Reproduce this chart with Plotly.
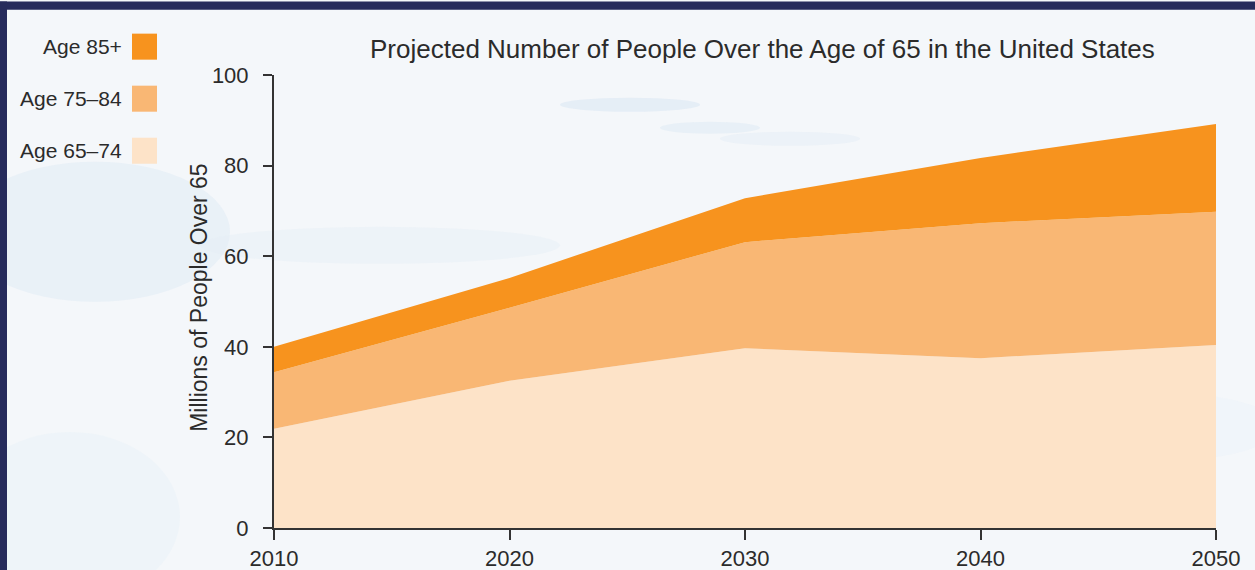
import plotly.graph_objects as go

# ---- data ----
years = [2010, 2020, 2030, 2040, 2050]
age_65_74 = [21.9, 32.5, 39.7, 37.5, 40.4]
age_75_84 = [12.5, 16.1, 23.4, 29.8, 29.4]
age_85_plus = [5.6, 6.6, 9.7, 14.4, 19.4]
series_names = ["Age 65\u201374", "Age 75\u201384", "Age 85+"]
series_colors = ["#FDE3C8", "#F9B774", "#F7931E"]
y_ticks = [0, 20, 40, 60, 80, 100]
x_ticks = [2010, 2020, 2030, 2040, 2050]
title_text = "Projected Number of People Over the Age of 65 in the United States"
y_title = "Millions of People Over 65"

# the page shows the figure at ~0.977 of its layout height, so compensate
SY = 583 / 570
W, H = 1255, 583
L, R = 274, 39
T, B = round(73 * SY), round(44 * SY)
PW, PH = W - L - R, H - T - B


def xp(px):
    return (px - L) / PW


def yp(py):
    return (H - B - py * SY) / PH


FONT = "Liberation Sans, Arial, sans-serif"
TXT = "#2b2b2b"

fig = go.Figure()
for name, vals, col in zip(series_names, [age_65_74, age_75_84, age_85_plus], series_colors):
    fig.add_trace(go.Scatter(
        x=years, y=vals, name=name, mode="lines", stackgroup="one",
        line=dict(width=0, color=col), fillcolor=col, showlegend=False,
        hoverinfo="x+y+name",
    ))

shapes = []
# soft cloud-like background tints
clouds = [
    (-40, 160, 230, 300, "#DCE8F3", 0.45),
    (560, 96, 700, 110, "#D3E3F1", 0.45),
    (660, 120, 760, 132, "#D8E6F2", 0.4),
    (720, 130, 860, 144, "#DCE8F3", 0.35),
    (200, 225, 560, 262, "#E3EDF6", 0.4),
    (-40, 430, 180, 600, "#E6EFF7", 0.4),
    (1020, 390, 1280, 460, "#E8F0F8", 0.35),
]
for x0, y0, x1, y1, c, o in clouds:
    shapes.append(dict(type="circle", xref="paper", yref="paper", layer="below",
                       x0=xp(x0), x1=xp(x1), y0=yp(y1), y1=yp(y0),
                       fillcolor=c, opacity=o, line=dict(width=0)))
# navy frame strips (top and left)
shapes.append(dict(type="rect", xref="paper", yref="paper", layer="above",
                   x0=xp(0), x1=xp(W), y0=yp(8), y1=yp(0),
                   fillcolor="#262B5C", line=dict(width=0)))
shapes.append(dict(type="rect", xref="paper", yref="paper", layer="above",
                   x0=xp(0), x1=xp(7), y0=yp(600), y1=yp(0),
                   fillcolor="#262B5C", line=dict(width=0)))

annotations = []
# custom legend: label to the left of the swatch, top row = Age 85+
legend_rows = [(series_names[2], series_colors[2], 45),
               (series_names[1], series_colors[1], 97),
               (series_names[0], series_colors[0], 149)]
for name, col, cy in legend_rows:
    shapes.append(dict(type="rect", xref="paper", yref="paper", layer="above",
                       x0=xp(132), x1=xp(157), y0=yp(cy + 13), y1=yp(cy - 13),
                       fillcolor=col, line=dict(width=0)))
    annotations.append(dict(xref="paper", yref="paper", x=xp(124), y=yp(cy),
                            xanchor="right", yanchor="middle", showarrow=False,
                            text=name, font=dict(family=FONT, size=21, color=TXT)))

# title
annotations.append(dict(xref="paper", yref="paper", x=xp(762), y=yp(47),
                        xanchor="center", yanchor="middle", showarrow=False,
                        text=title_text, font=dict(family=FONT, size=26, color=TXT)))
# y-axis title
annotations.append(dict(xref="paper", yref="paper", x=xp(199), y=yp(296),
                        xanchor="center", yanchor="middle", showarrow=False,
                        textangle=-90, text=y_title,
                        font=dict(family=FONT, size=23, color=TXT)))

fig.update_layout(
    width=W, height=H, autosize=False,
    margin=dict(l=L, r=R, t=T, b=B, pad=0),
    paper_bgcolor="#F4F7FA",
    plot_bgcolor="rgba(0,0,0,0)",
    showlegend=False,
    shapes=shapes,
    annotations=annotations,
    font=dict(family=FONT, color=TXT),
    xaxis=dict(range=[2010, 2050], tickvals=x_ticks, showgrid=False, zeroline=False,
               showline=True, linecolor="#333333", linewidth=2,
               ticks="outside", ticklen=10, tickwidth=2, tickcolor="#333333",
               tickfont=dict(family=FONT, size=22, color=TXT), layer="above traces"),
    yaxis=dict(range=[0, 100], tickvals=y_ticks, showgrid=False, zeroline=False,
               showline=True, linecolor="#333333", linewidth=2,
               ticks="outside", ticklen=9, tickwidth=2, tickcolor="#333333",
               ticklabelstandoff=10,
               tickfont=dict(family=FONT, size=22, color=TXT), layer="above traces"),
)

fig.write_html("out.html")
